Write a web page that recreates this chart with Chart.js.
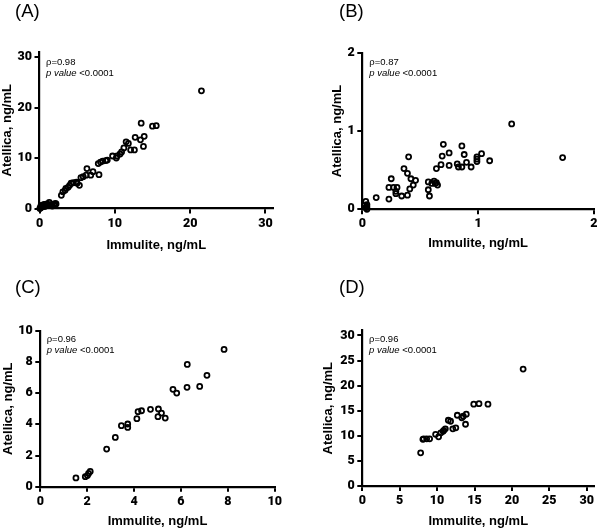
<!DOCTYPE html>
<html>
<head>
<meta charset="utf-8">
<script src="https://cdn.jsdelivr.net/npm/chart.js@4.4.1/dist/chart.umd.min.js"></script>
<style>
  html, body { margin: 0; padding: 0; background: #fff; }
  #wrap { position: relative; width: 600px; height: 530px; overflow: hidden; }
  .panel { position: absolute; width: 300px; height: 265px; }
  .tag { position: absolute; font: 18.5px "Liberation Sans", Arial, sans-serif; color: #000; line-height: 18px; }
</style>
</head>
<body>
<div id="wrap">
  <div class="panel" style="left:0;top:0"><canvas id="chartA"></canvas></div>
  <div class="panel" style="left:300px;top:0"><canvas id="chartB"></canvas></div>
  <div class="panel" style="left:0;top:265px"><canvas id="chartC"></canvas></div>
  <div class="panel" style="left:300px;top:265px"><canvas id="chartD"></canvas></div>
  <div class="tag" style="left:15px;top:2px">(A)</div>
  <div class="tag" style="left:339px;top:2px">(B)</div>
  <div class="tag" style="left:15px;top:278px">(C)</div>
  <div class="tag" style="left:339px;top:278px">(D)</div>
</div>
<script>
// Immulite (x) vs Atellica (y), ng/mL

// (A) all samples
const immuliteA = [21.5, 13.5, 15.0, 15.5, 12.7, 13.4, 13.9, 13.8, 11.5, 11.8, 11.2, 12.1, 12.6, 10.9, 10.7,
    10.3, 9.7, 10.2, 9.0, 8.8, 8.4, 8.1, 7.8, 7.9, 7.1, 6.8, 6.3, 6.2, 5.8, 5.5, 5.3, 5.0, 4.9, 4.5, 4.2,
    4.0, 3.8, 3.5, 3.4, 3.1, 2.9, 2.2, 2.1, 2.0, 1.9, 1.6, 1.5, 1.3, 1.0, 0.8, 0.7, 0.6, 0.5, 0.4, 0.3,
    0.2, 0.1, 0.05, 1.7, 0.2, 0.9, 1.2];
const atellicaA = [23.3, 16.9, 16.3, 16.4, 14.1, 13.6, 14.3, 12.3, 13.2, 12.9, 12.0, 11.6, 11.6, 11.2, 10.8,
    10.4, 10.4, 10.0, 9.6, 9.5, 9.4, 9.2, 8.9, 6.7, 7.3, 6.6, 7.9, 6.6, 6.3, 6.1, 4.6, 5.0, 5.2, 5.1, 5.0,
    4.6, 4.2, 4.0, 3.6, 3.3, 2.6, 0.9, 1.0, 0.8, 0.7, 0.8, 0.6, 1.2, 0.9, 0.8, 0.4, 0.8, 0.6, 0.5, 0.3,
    0.2, 0.1, 0.0, 0.5, 0.6, 0.6, 0.7];

// (B) low range
const immuliteB = [1.29, 1.73, 0.70, 0.86, 0.75, 0.69, 0.88, 1.03, 0.99, 0.99, 0.99, 1.10, 0.90, 0.94, 0.86,
    0.83, 0.82, 0.75, 0.68, 0.64, 0.40, 0.36, 0.39, 0.42, 0.46, 0.41, 0.44, 0.39, 0.34, 0.29, 0.29, 0.30,
    0.25, 0.23, 0.27, 0.23, 0.12, 0.03, 0.04, 0.04, 0.04, 0.03, 0.57, 0.58, 0.57, 0.60, 0.62, 0.63, 0.65, 0.64];
const atellicaB = [1.09, 0.66, 0.83, 0.81, 0.72, 0.68, 0.70, 0.71, 0.67, 0.64, 0.61, 0.62, 0.60, 0.54, 0.54,
    0.54, 0.58, 0.56, 0.57, 0.52, 0.67, 0.52, 0.46, 0.39, 0.37, 0.26, 0.31, 0.18, 0.17, 0.20, 0.23, 0.28,
    0.39, 0.28, 0.28, 0.13, 0.15, 0.10, 0.06, 0.03, 0.00, 0.02, 0.25, 0.17, 0.35, 0.33, 0.36, 0.33, 0.31, 0.34];

// (C) mid range
const immuliteC = [7.84, 6.27, 7.11, 6.80, 6.26, 5.66, 5.82, 5.04, 4.70, 5.17, 5.02, 5.33, 4.32, 4.17, 4.12,
    3.73, 3.73, 3.46, 3.20, 2.83, 2.13, 2.06, 2.01, 1.92, 1.52];
const atellicaC = [8.80, 7.84, 7.14, 6.43, 6.37, 6.24, 6.00, 4.98, 4.96, 4.72, 4.49, 4.40, 4.87, 4.81, 4.36,
    4.02, 3.80, 3.91, 3.16, 2.41, 0.98, 0.85, 0.71, 0.64, 0.56];

// (D) high range
const immuliteD = [21.5, 15.6, 14.9, 16.8, 12.7, 13.9, 13.3, 13.5, 13.8, 11.5, 11.8, 12.1, 12.5, 11.1, 10.9,
    10.8, 10.5, 9.8, 10.2, 9.0, 8.6, 8.2, 8.1, 7.8];
const atellicaD = [23.3, 16.4, 16.3, 16.3, 14.1, 14.3, 13.6, 13.9, 12.3, 13.1, 12.9, 11.4, 11.6, 11.4, 11.1,
    10.9, 10.6, 10.3, 9.8, 9.4, 9.4, 9.4, 9.3, 6.6];

const rhoLabels = ['ρ=0.98', 'ρ=0.87', 'ρ=0.96', 'ρ=0.96'];
const pLabel = '<0.0001';

const FONT = '"Liberation Sans", Arial, Helvetica, sans-serif';
const TICK_FONT = 'Roboto, "Liberation Sans", Arial, sans-serif';

// draws the rho / p value note in the top-left corner of the plot
const statsText = {
    id: 'statsText',
    afterDraw(chart, args, o) {
        if (!o || !o.rho) return;
        const ctx = chart.ctx;
        const a = chart.chartArea;
        const x = a.left + o.dx;
        ctx.save();
        ctx.fillStyle = '#000';
        ctx.textBaseline = 'middle';
        ctx.textAlign = 'left';
        ctx.font = '9.5px ' + FONT;
        ctx.fillText(o.rho, x, a.top + o.dy1);
        ctx.font = 'italic 9.5px ' + FONT;
        ctx.fillText('p value', x, a.top + o.dy2);
        const w = ctx.measureText('p value ').width;
        ctx.font = '9.5px ' + FONT;
        ctx.fillText(pLabel, x + w, a.top + o.dy2);
        ctx.restore();
    }
};

function axis(max, tickVals, title, titlePad, size, horizontal) {
    return {
        type: 'linear',
        min: 0,
        max: max,
        afterBuildTicks: s => { s.ticks = tickVals.map(v => ({ value: v })); },
        afterFit: s => { if (horizontal) s.height = size; else s.width = size; },
        border: { display: true, color: '#000', width: 2.2 },
        grid: { drawOnChartArea: false, drawTicks: true, tickLength: 5, color: '#000', lineWidth: 2 },
        ticks: {
            color: '#000',
            padding: 2.5,
            autoSkip: false,
            maxRotation: 0,
            font: { family: TICK_FONT, size: 12.5, weight: '900' }
        },
        title: {
            display: true,
            text: title,
            color: '#000',
            padding: horizontal ? { top: 0, bottom: titlePad } : { top: titlePad, bottom: 0 },
            font: { family: FONT, size: 13, weight: 'bold', lineHeight: 1.15 }
        }
    };
}

function makeChart(id, xs, ys, p) {
    const pts = xs.map((x, i) => ({ x: x, y: ys[i] }));
    return new Chart(document.getElementById(id), {
        type: 'scatter',
        data: {
            datasets: [{
                data: pts,
                pointRadius: 2.5,
                pointBorderWidth: 1.8,
                borderColor: '#000',
                backgroundColor: 'rgba(0,0,0,0)',
                clip: false
            }]
        },
        options: {
            responsive: true,
            maintainAspectRatio: false,
            animation: false,
            layout: { padding: { top: p.top, right: p.right, left: 0, bottom: 0 } },
            scales: {
                x: axis(p.xMax, p.xTicks, 'Immulite, ng/mL', p.xTitlePad, p.xH, true),
                y: axis(p.yMax, p.yTicks, 'Atellica, ng/mL', p.yTitlePad, p.yW, false)
            },
            plugins: {
                legend: { display: false },
                tooltip: { enabled: false },
                statsText: { rho: p.rho, dx: p.dx, dy1: p.dy1, dy2: p.dy2 }
            }
        },
        plugins: [statsText]
    });
}

makeChart('chartA', immuliteA, atellicaA, {
    top: 52, right: 27, yW: 39.5, xH: 56.5, xMax: 31, yMax: 31,
    xTicks: [0, 10, 20, 30], yTicks: [0, 10, 20, 30], xTitlePad: 12.5, yTitlePad: 0,
    rho: rhoLabels[0], dx: 6.5, dy1: 10, dy2: 21
});
makeChart('chartB', immuliteB, atellicaB, {
    top: 52.7, right: 4, yW: 62.3, xH: 55.7, xMax: 2, yMax: 2,
    xTicks: [0, 1, 2], yTicks: [0, 1, 2], xTitlePad: 14.2, yTitlePad: 29.8,
    rho: rhoLabels[1], dx: 7, dy1: 9.3, dy2: 21
});
makeChart('chartC', immuliteC, atellicaC, {
    top: 65.7, right: 25.3, yW: 40.3, xH: 43.3, xMax: 10, yMax: 10,
    xTicks: [0, 2, 4, 6, 8, 10], yTicks: [0, 2, 4, 6, 8, 10], xTitlePad: 0.8, yTitlePad: 0.8,
    rho: rhoLabels[2], dx: 6.4, dy1: 8.3, dy2: 20
});
makeChart('chartD', immuliteD, atellicaD, {
    top: 65.4, right: 4.7, yW: 62.3, xH: 44, xMax: 31, yMax: 31,
    xTicks: [0, 5, 10, 15, 20, 25, 30], yTicks: [0, 5, 10, 15, 20, 25, 30], xTitlePad: 0.8, yTitlePad: 20.8,
    rho: rhoLabels[3], dx: 6.7, dy1: 9, dy2: 20
});
</script>
</body>
</html>
